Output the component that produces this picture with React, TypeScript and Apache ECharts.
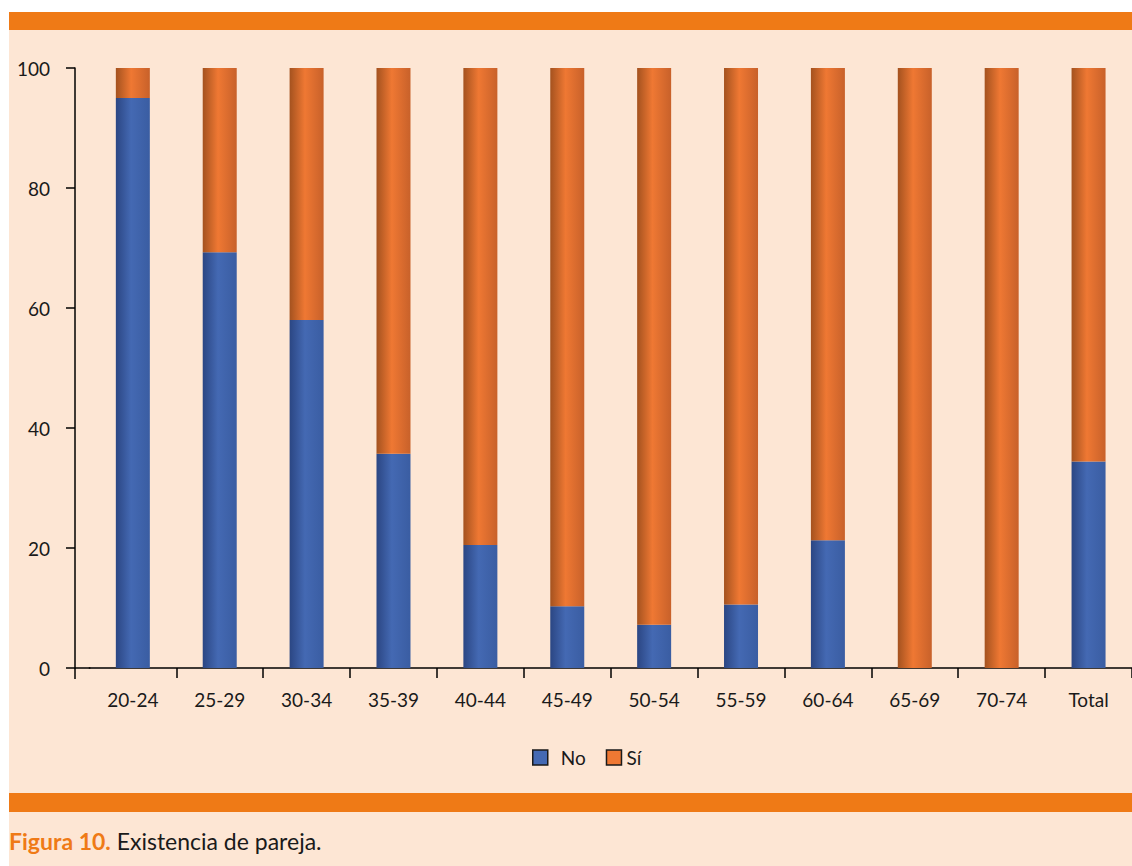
import React, { useEffect, useRef } from "react";
import * as echarts from "echarts";

const categories = ["20-24", "25-29", "30-34", "35-39", "40-44", "45-49", "50-54", "55-59", "60-64", "65-69", "70-74", "Total"];
const noValues = [95, 69.3, 58, 35.7, 20.5, 10.3, 7.2, 10.6, 21.3, 0, 0, 34.4];
const siValues = [5, 30.7, 42, 64.3, 79.5, 89.7, 92.8, 89.4, 78.7, 100, 100, 65.6];
const yTicks = { min: 0, max: 100, interval: 20 };
const caption = { bold: "Figura 10.", rest: " Existencia de pareja." };

const FONT = "Lato, 'Open Sans', sans-serif";
const GRID_LEFT = 89.4;
const GRID_TOP = 68;
const GRID_BOTTOM_Y = 668;
const AXIS_X = 75;

export default function App() {
  const ref = useRef<HTMLDivElement>(null);
  useEffect(() => {
    document.body.style.margin = "0";
    const chart = echarts.init(ref.current!, null, { renderer: "svg" });
    const grad = (a: string, b: string, c: string) =>
      new echarts.graphic.LinearGradient(0, 0, 1, 0, [
        { offset: 0, color: a },
        { offset: 0.45, color: b },
        { offset: 1, color: c },
      ]);
    chart.setOption({
      animation: false,
      backgroundColor: "#ffffff",
      graphic: [
        { type: "rect", z: -10, shape: { x: 9, y: 12, width: 1123, height: 854 }, style: { fill: "#fde6d4" } },
        { type: "rect", z: -5, shape: { x: 9, y: 12, width: 1123, height: 18 }, style: { fill: "#ef7a16" } },
        { type: "rect", z: -5, shape: { x: 9, y: 793, width: 1123, height: 19 }, style: { fill: "#ef7a16" } },
        { type: "line", z: 10, shape: { x1: AXIS_X, y1: GRID_BOTTOM_Y, x2: GRID_LEFT + 1, y2: GRID_BOTTOM_Y }, style: { stroke: "#000", lineWidth: 1.5 } },
        { type: "line", z: 10, shape: { x1: AXIS_X, y1: GRID_BOTTOM_Y, x2: AXIS_X, y2: GRID_BOTTOM_Y + 11 }, style: { stroke: "#000", lineWidth: 1.5 } },
        {
          type: "text",
          left: 9,
          top: 829,
          style: {
            text: "{b|" + caption.bold + "}{r|" + caption.rest + "}",
            rich: {
              b: { fontFamily: FONT, fontSize: 23, fontWeight: "bold", fill: "#ef7a16" },
              r: { fontFamily: FONT, fontSize: 23, fill: "#1a1a1a" },
            },
          },
        },
      ],
      legend: {
        data: [
          { name: "No", itemStyle: { color: "#4469b3", borderColor: "#1a1a1a", borderWidth: 1.5 }, textStyle: { padding: [0, 0, 0, 8] } },
          { name: "Sí", itemStyle: { color: "#ef7833", borderColor: "#1a1a1a", borderWidth: 1.5 } },
        ],
        left: 527,
        top: 743,
        itemWidth: 15,
        itemHeight: 15,
        itemGap: 20,
        icon: "rect",
        textStyle: { fontFamily: FONT, fontSize: 19, color: "#1a1a1a" },
      },
      grid: { left: GRID_LEFT, width: 1051.2, top: GRID_TOP, bottom: 866 - GRID_BOTTOM_Y, containLabel: false },
      xAxis: {
        type: "category",
        data: categories,
        axisLine: { lineStyle: { color: "#000", width: 1.5 } },
        axisTick: { show: true, length: 10, interval: (i: number) => i !== 0, lineStyle: { color: "#000", width: 1.5 } },
        axisLabel: { fontFamily: FONT, fontSize: 19, color: "#1a1a1a", margin: 22, interval: 0 },
      },
      yAxis: {
        type: "value",
        min: yTicks.min,
        max: yTicks.max,
        interval: yTicks.interval,
        offset: GRID_LEFT - AXIS_X,
        splitLine: { show: false },
        axisLine: { show: true, lineStyle: { color: "#000", width: 1.5 } },
        axisTick: { show: true, length: 9, lineStyle: { color: "#000", width: 1.5 } },
        axisLabel: { fontFamily: FONT, fontSize: 19, color: "#1a1a1a", margin: 25 },
      },
      series: [
        {
          name: "No",
          type: "bar",
          stack: "t",
          barWidth: 34,
          data: noValues,
          itemStyle: { color: grad("#2b4683", "#4469b3", "#3a5da2") },
        },
        {
          name: "Sí",
          type: "bar",
          stack: "t",
          barWidth: 34,
          data: siValues,
          itemStyle: { color: grad("#a4521f", "#ef7833", "#c8612a") },
        },
      ],
      color: ["#4469b3", "#ef7833"],
    });
    return () => chart.dispose();
  }, []);
  return <div ref={ref} style={{ width: 1132, height: 866 }} />;
}
